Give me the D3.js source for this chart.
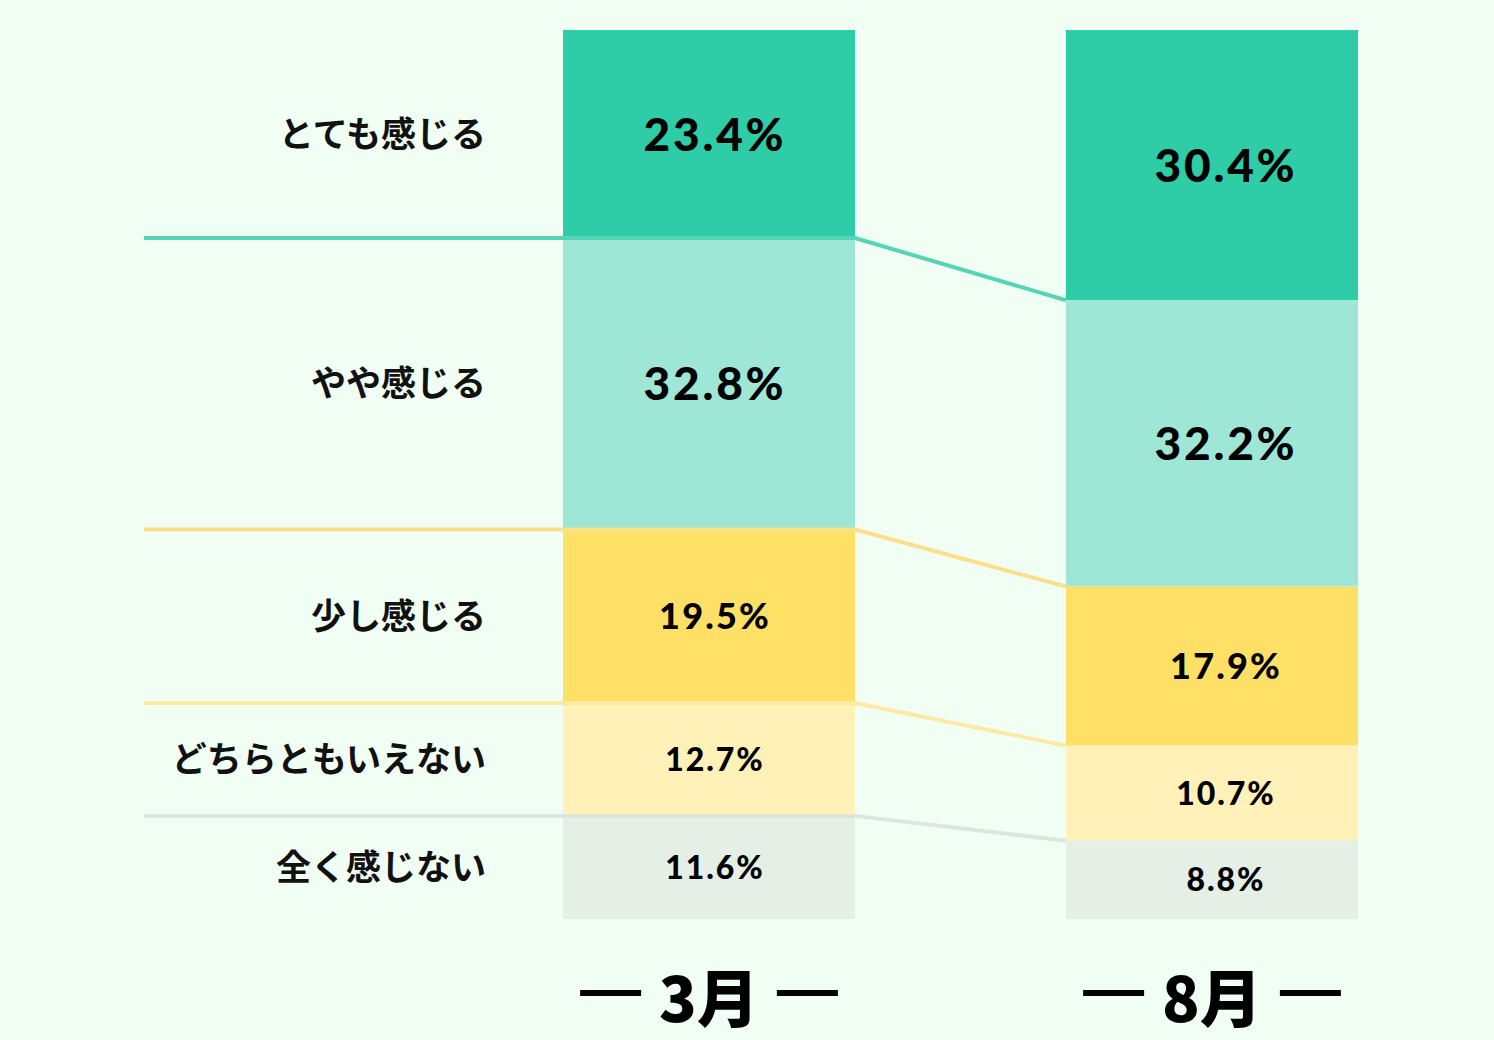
<!DOCTYPE html>
<html lang="ja">
<head>
<meta charset="utf-8">
<script src="https://cdn.jsdelivr.net/npm/d3@7"></script>
<style>
  html, body { margin: 0; padding: 0; background: #f1fef4; }
  svg { display: block; }
  .cat-label { font-family: "Noto Sans CJK JP", sans-serif; font-weight: 700; fill: #111; }
  .val-label { font-family: Lato, sans-serif; font-weight: 900; fill: #000; letter-spacing: 0.06em; }
  .month-label { font-family: "Noto Sans CJK JP", sans-serif; font-weight: 900; fill: #000; }
</style>
</head>
<body>
<div id="chart"></div>
<script>
const months = ['3月', '8月'];
const categories = ['とても感じる', 'やや感じる', '少し感じる', 'どちらともいえない', '全く感じない'];
const march = [23.4, 32.8, 19.5, 12.7, 11.6];
const august = [30.4, 32.2, 17.9, 10.7, 8.8];

const W = 1494;
const H = 1040;
const segColors = ['#2ecca7', '#9ee6d6', '#ffe066', '#fff1b8', '#e5efe6'];
const lineColors = ['#55d4b6', '#f9e08a', '#fce9a3', '#dde5df'];

const svg = d3.select('#chart').append('svg')
  .attr('width', W)
  .attr('height', H);

svg.append('rect')
  .attr('width', W)
  .attr('height', H)
  .attr('fill', '#f1fef4');

const x = d3.scaleBand()
  .domain(months)
  .range([563, 1358])
  .paddingInner(0.4195)
  .paddingOuter(0);

const y = d3.scaleLinear()
  .domain([0, 100])
  .range([30, 919]);

const fontSize = d3.scaleThreshold()
  .domain([15, 20])
  .range([32, 36, 46]);

// values sit a little right of the bar centre in the original
const labelShift = [6, 14];

const series = [march, august];

// stacked segments for each month
const stacks = series.map((vals) => {
  let acc = 0;
  return vals.map((v, i) => {
    const s = { cat: categories[i], v, y0: acc, y1: acc + v, i };
    acc += v;
    return s;
  });
});

const gBars = svg.append('g');
const gLines = svg.append('g');
const gText = svg.append('g');

stacks.forEach((stack, m) => {
  const bx = x(months[m]);
  const bw = x.bandwidth();
  const cx = bx + bw / 2;

  gBars.selectAll(null)
    .data(stack)
    .enter()
    .append('rect')
    .attr('x', bx)
    .attr('y', (d) => y(d.y0))
    .attr('width', bw)
    .attr('height', (d) => y(d.y1) - y(d.y0))
    .attr('fill', (d) => segColors[d.i]);

  gText.selectAll(null)
    .data(stack)
    .enter()
    .append('text')
    .attr('class', 'val-label')
    .attr('x', cx + labelShift[m])
    .attr('y', (d) => (y(d.y0) + y(d.y1)) / 2)
    .attr('dy', '0.36em')
    .attr('text-anchor', 'middle')
    .style('font-size', (d) => `${fontSize(d.v)}px`)
    .text((d) => `${d.v.toFixed(1)}%`);

  const ml = gText.append('text')
    .attr('class', 'month-label')
    .attr('x', cx)
    .attr('y', 1022)
    .attr('text-anchor', 'middle')
    .style('font-size', '62px')
    .text(months[m]);

  const bb = ml.node().getBBox();
  [[bb.x - 18 - 61, bb.x - 18], [bb.x + bb.width + 18, bb.x + bb.width + 18 + 61]]
    .forEach(([d1, d2]) => {
      gText.append('line')
        .attr('x1', d1)
        .attr('x2', d2)
        .attr('y1', 993)
        .attr('y2', 993)
        .attr('stroke', '#000')
        .attr('stroke-width', 6);
    });
});

// connector lines between category boundaries
const left = 144;
const a = stacks[0];
const b = stacks[1];
d3.range(1, categories.length).forEach((k) => {
  const ya = y(a[k].y0);
  const yb = y(b[k].y0);
  const x1 = x(months[0]) + x.bandwidth();
  const x2 = x(months[1]);
  gLines.append('path')
    .attr('d', `M${left} ${ya}L${x1} ${ya}L${x2} ${yb}`)
    .attr('fill', 'none')
    .attr('stroke', lineColors[k - 1])
    .attr('stroke-width', 4);
});

// category labels on the left
gText.selectAll(null)
  .data(a)
  .enter()
  .append('text')
  .attr('class', 'cat-label')
  .attr('x', 486)
  .attr('y', (d) => (y(d.y0) + y(d.y1)) / 2)
  .attr('dy', '0.36em')
  .attr('text-anchor', 'end')
  .style('font-size', '35px')
  .text((d) => d.cat);
</script>
</body>
</html>
